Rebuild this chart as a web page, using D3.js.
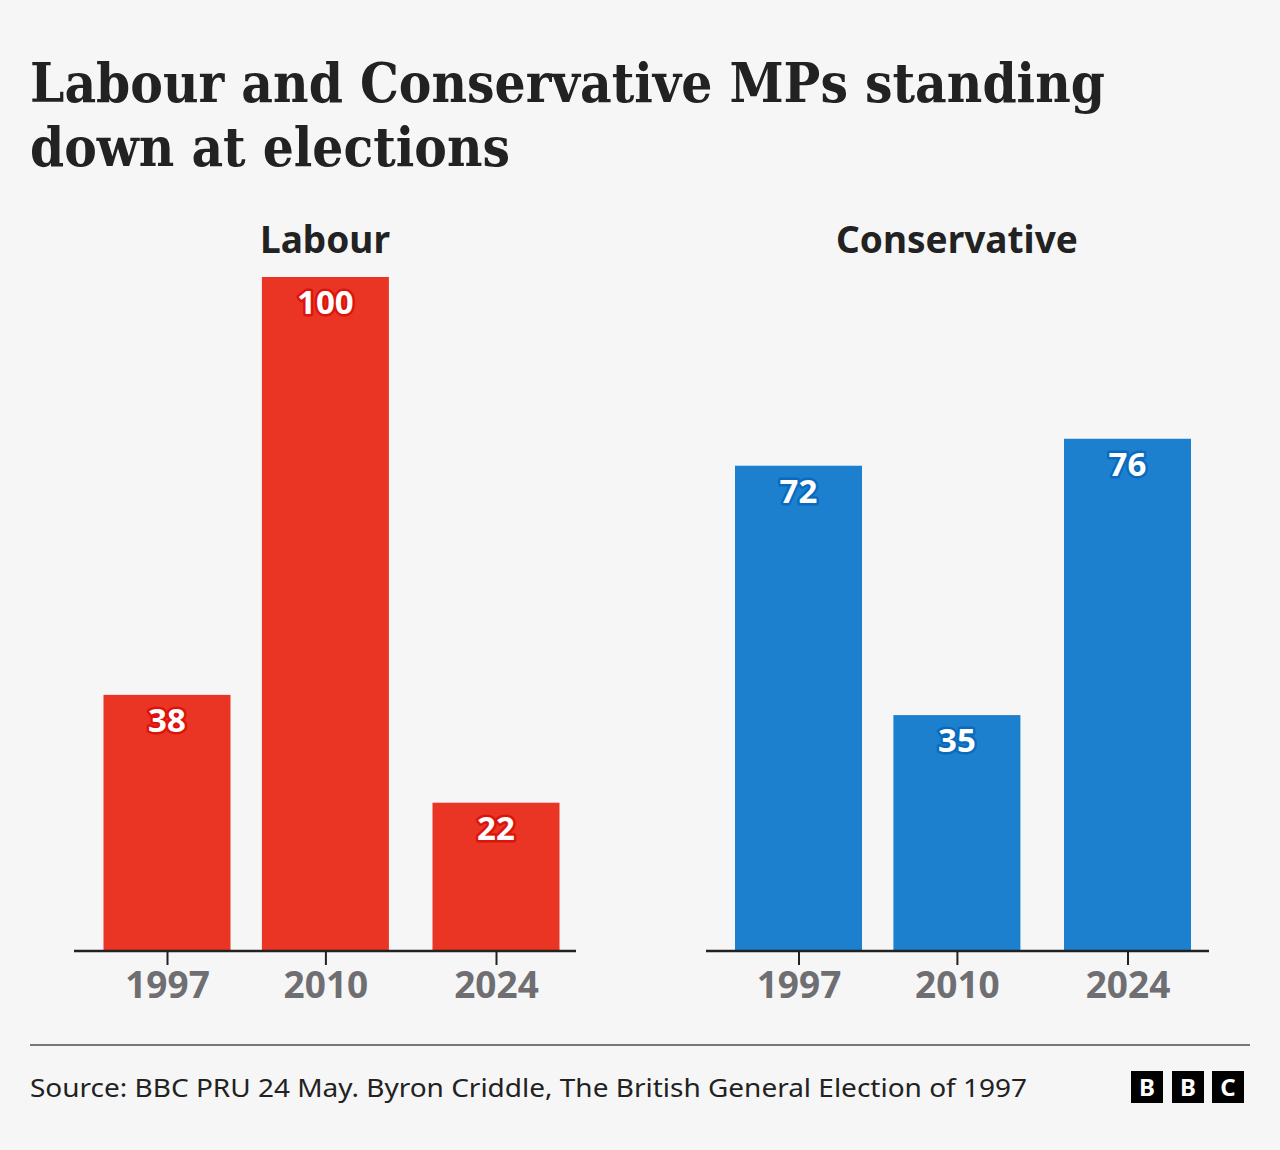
<!DOCTYPE html>
<html>
<head>
<meta charset="utf-8">
<script src="https://cdn.jsdelivr.net/npm/d3@7"></script>
<style>
  html, body { margin: 0; padding: 0; background: #f6f6f6; }
  svg { display: block; }
</style>
</head>
<body>
<script>
// ---- data ----
const titleLines = ["Labour and Conservative MPs standing", "down at elections"];
const years = [1997, 2010, 2024];
const parties = ["Labour", "Conservative"];
const labourValues = [38, 100, 22];
const conservativeValues = [72, 35, 76];
const partyColors = ["#ea3424", "#1d80ce"];
const haloColors = ["#dc140c", "#0a6bbd"];
const sourceText = "Source: BBC PRU 24 May. Byron Criddle, The British General Election of 1997";
const logoLetters = ["B", "B", "C"];

const W = 1280, H = 1150;
const svg = d3.select("body").append("svg").attr("width", W).attr("height", H);
svg.append("rect").attr("width", W).attr("height", H).attr("fill", "#f6f6f6");

const sans = "'Noto Sans', 'Open Sans', sans-serif";
const serif = "'DejaVu Serif', serif";

// title
const titleBaselines = [102, 166];
const titleWidths = [1075, 480];
titleLines.forEach((t, i) => {
  svg.append("text")
    .attr("x", 30).attr("y", titleBaselines[i])
    .attr("font-family", serif).attr("font-size", 54).attr("font-weight", 700)
    .attr("fill", "#222").attr("textLength", titleWidths[i]).attr("lengthAdjust", "spacingAndGlyphs")
    .text(t);
});

// scales
const baseline = 951;
const y = d3.scaleLinear().domain([0, 100]).range([baseline, 277]);
const panelRanges = [[167, 496], [798.5, 1127.5]];
const axisExtents = [[74, 576], [706, 1209]];
const titleCenters = [325, 957];
const barW = 127;
const allValues = [labourValues, conservativeValues];

parties.forEach((p, pi) => {
  const x = d3.scaleLinear().domain([1997, 2024]).range(panelRanges[pi]);
  const g = svg.append("g");
  const vals = allValues[pi];
  const data = years.map((yr, i) => ({ yr, v: vals[i] }));

  // panel title
  g.append("text")
    .attr("x", titleCenters[pi])
    .attr("y", 253)
    .attr("text-anchor", "middle")
    .attr("font-family", sans).attr("font-weight", 700).attr("font-size", 37)
    .attr("fill", "#222").text(p);

  // bars
  g.selectAll("rect.bar").data(data).enter().append("rect")
    .attr("class", "bar")
    .attr("x", d => x(d.yr) - barW / 2)
    .attr("width", barW)
    .attr("y", d => y(d.v))
    .attr("height", d => baseline - y(d.v))
    .attr("fill", partyColors[pi]);

  // value labels
  g.selectAll("text.val").data(data).enter().append("text")
    .attr("class", "val")
    .attr("x", d => x(d.yr))
    .attr("y", d => y(d.v) + 37)
    .attr("text-anchor", "middle")
    .attr("font-family", sans).attr("font-weight", 700).attr("font-size", 33)
    .attr("fill", "#fff")
    .attr("stroke", haloColors[pi]).attr("stroke-width", 5)
    .attr("paint-order", "stroke").attr("stroke-linejoin", "round")
    .text(d => d.v);

  // axis
  const axis = d3.axisBottom(x).tickValues(years).tickFormat(d3.format("d")).tickSize(14).tickPadding(8);
  const ag = g.append("g").attr("transform", `translate(0,${baseline})`).call(axis);
  ag.select(".domain").remove();
  ag.selectAll(".tick line").attr("stroke", "#222").attr("stroke-width", 2);
  ag.selectAll(".tick text")
    .attr("font-family", sans).attr("font-weight", 700).attr("font-size", 37)
    .attr("fill", "#6e6e73").attr("dy", "0.68em");
  g.append("line")
    .attr("x1", axisExtents[pi][0]).attr("x2", axisExtents[pi][1])
    .attr("y1", baseline).attr("y2", baseline)
    .attr("stroke", "#222").attr("stroke-width", 2.5);
});

// footer
svg.append("line").attr("x1", 30).attr("x2", 1250).attr("y1", 1045).attr("y2", 1045)
  .attr("stroke", "#777").attr("stroke-width", 2);
svg.append("text").attr("x", 30).attr("y", 1097)
  .attr("font-family", sans).attr("font-size", 26).attr("fill", "#222")
  .attr("textLength", 997).attr("lengthAdjust", "spacingAndGlyphs")
  .text(sourceText);

const logoX = [1131, 1172, 1212];
logoLetters.forEach((l, i) => {
  svg.append("rect").attr("x", logoX[i]).attr("y", 1071).attr("width", 32).attr("height", 32).attr("fill", "#000");
  svg.append("text").attr("x", logoX[i] + 16).attr("y", 1096)
    .attr("text-anchor", "middle").attr("font-family", sans).attr("font-weight", 700)
    .attr("font-size", 24).attr("fill", "#fff").text(l);
});
</script>
</body>
</html>
